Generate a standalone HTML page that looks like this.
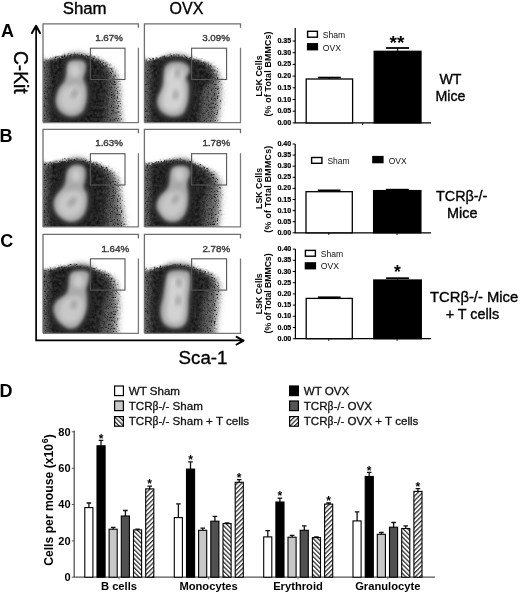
<!DOCTYPE html>
<html><head><meta charset="utf-8"><style>
html,body{margin:0;padding:0;background:#fff;width:520px;height:595px;overflow:hidden}
svg{display:block;will-change:transform}
text{font-family:"Liberation Sans",sans-serif}
.hv{stroke:#000;stroke-width:0.35px}
</style></head><body>
<svg width="520" height="595" viewBox="0 0 520 595" font-family="Liberation Sans, sans-serif"><defs><filter id="b1" x="-20%" y="-20%" width="140%" height="140%"><feGaussianBlur stdDeviation="1"/></filter><filter id="b15" x="-20%" y="-20%" width="140%" height="140%"><feGaussianBlur stdDeviation="1.5"/></filter><filter id="b2" x="-20%" y="-20%" width="140%" height="140%"><feGaussianBlur stdDeviation="2"/></filter><filter id="b3" x="-20%" y="-20%" width="140%" height="140%"><feGaussianBlur stdDeviation="3"/></filter><linearGradient id="lf" x1="0" x2="1" y1="0" y2="0"><stop offset="0" stop-color="#fff" stop-opacity="0.32"/><stop offset="1" stop-color="#fff" stop-opacity="0"/></linearGradient><filter id="bo" x="-20%" y="-20%" width="140%" height="140%"><feGaussianBlur stdDeviation="3.5 1.3"/></filter><filter id="bd" x="-20%" y="-20%" width="140%" height="140%"><feGaussianBlur stdDeviation="3.5 1.0"/></filter><clipPath id="clip00"><rect x="43.0" y="23.8" width="95.4" height="98.8"/></clipPath><filter id="spk00" x="33.0" y="13.8" width="115.4" height="118.8" filterUnits="userSpaceOnUse" color-interpolation-filters="sRGB"><feTurbulence type="fractalNoise" baseFrequency="0.5" numOctaves="2" seed="1" result="t"/><feDisplacementMap in="SourceGraphic" in2="t" scale="4" xChannelSelector="R" yChannelSelector="G" result="d"/><feTurbulence type="fractalNoise" baseFrequency="0.32" numOctaves="2" seed="11" result="t2"/><feColorMatrix in="t2" type="matrix" values="2.2 0 0 0 -0.6000000000000001 2.2 0 0 0 -0.6000000000000001 2.2 0 0 0 -0.6000000000000001 0 0 0 0 1" result="n"/><feComposite in="d" in2="n" operator="arithmetic" k1="-0.14" k2="1.07" k3="0.14" k4="-0.07" result="c"/><feTurbulence type="fractalNoise" baseFrequency="0.7" numOctaves="1" seed="21" result="t3"/><feColorMatrix in="t3" type="matrix" values="0 0 0 0 0.1 0 0 0 0 0.1 0 0 0 0 0.1 8 0 0 0 -4.48" result="dots"/><feColorMatrix in="c" type="matrix" values="0 0 0 0 0 0 0 0 0 0 0 0 0 0 0 0.33 0.33 0.33 0 0" result="lum"/><feComponentTransfer in="lum" result="fm"><feFuncA type="table" tableValues="0 0 0.2 0.5 0.8 0.9 0.9 0.8 0.5 0.15 0 0"/></feComponentTransfer><feComposite in="dots" in2="fm" operator="in" result="dm"/><feComposite in="dm" in2="c" operator="over" result="c2"/><feGaussianBlur in="c2" stdDeviation="0.5"/></filter><clipPath id="clip01"><rect x="144.4" y="23.8" width="96.1" height="98.8"/></clipPath><filter id="spk01" x="134.4" y="13.8" width="116.1" height="118.8" filterUnits="userSpaceOnUse" color-interpolation-filters="sRGB"><feTurbulence type="fractalNoise" baseFrequency="0.5" numOctaves="2" seed="2" result="t"/><feDisplacementMap in="SourceGraphic" in2="t" scale="4" xChannelSelector="R" yChannelSelector="G" result="d"/><feTurbulence type="fractalNoise" baseFrequency="0.32" numOctaves="2" seed="12" result="t2"/><feColorMatrix in="t2" type="matrix" values="2.2 0 0 0 -0.6000000000000001 2.2 0 0 0 -0.6000000000000001 2.2 0 0 0 -0.6000000000000001 0 0 0 0 1" result="n"/><feComposite in="d" in2="n" operator="arithmetic" k1="-0.14" k2="1.07" k3="0.14" k4="-0.07" result="c"/><feTurbulence type="fractalNoise" baseFrequency="0.7" numOctaves="1" seed="22" result="t3"/><feColorMatrix in="t3" type="matrix" values="0 0 0 0 0.1 0 0 0 0 0.1 0 0 0 0 0.1 8 0 0 0 -4.48" result="dots"/><feColorMatrix in="c" type="matrix" values="0 0 0 0 0 0 0 0 0 0 0 0 0 0 0 0.33 0.33 0.33 0 0" result="lum"/><feComponentTransfer in="lum" result="fm"><feFuncA type="table" tableValues="0 0 0.2 0.5 0.8 0.9 0.9 0.8 0.5 0.15 0 0"/></feComponentTransfer><feComposite in="dots" in2="fm" operator="in" result="dm"/><feComposite in="dm" in2="c" operator="over" result="c2"/><feGaussianBlur in="c2" stdDeviation="0.5"/></filter><clipPath id="clip10"><rect x="43.0" y="129.3" width="95.4" height="97.6"/></clipPath><filter id="spk10" x="33.0" y="119.30000000000001" width="115.4" height="117.6" filterUnits="userSpaceOnUse" color-interpolation-filters="sRGB"><feTurbulence type="fractalNoise" baseFrequency="0.5" numOctaves="2" seed="3" result="t"/><feDisplacementMap in="SourceGraphic" in2="t" scale="4" xChannelSelector="R" yChannelSelector="G" result="d"/><feTurbulence type="fractalNoise" baseFrequency="0.32" numOctaves="2" seed="13" result="t2"/><feColorMatrix in="t2" type="matrix" values="2.2 0 0 0 -0.6000000000000001 2.2 0 0 0 -0.6000000000000001 2.2 0 0 0 -0.6000000000000001 0 0 0 0 1" result="n"/><feComposite in="d" in2="n" operator="arithmetic" k1="-0.14" k2="1.07" k3="0.14" k4="-0.07" result="c"/><feTurbulence type="fractalNoise" baseFrequency="0.7" numOctaves="1" seed="23" result="t3"/><feColorMatrix in="t3" type="matrix" values="0 0 0 0 0.1 0 0 0 0 0.1 0 0 0 0 0.1 8 0 0 0 -4.48" result="dots"/><feColorMatrix in="c" type="matrix" values="0 0 0 0 0 0 0 0 0 0 0 0 0 0 0 0.33 0.33 0.33 0 0" result="lum"/><feComponentTransfer in="lum" result="fm"><feFuncA type="table" tableValues="0 0 0.2 0.5 0.8 0.9 0.9 0.8 0.5 0.15 0 0"/></feComponentTransfer><feComposite in="dots" in2="fm" operator="in" result="dm"/><feComposite in="dm" in2="c" operator="over" result="c2"/><feGaussianBlur in="c2" stdDeviation="0.5"/></filter><clipPath id="clip11"><rect x="144.4" y="129.3" width="96.1" height="97.6"/></clipPath><filter id="spk11" x="134.4" y="119.30000000000001" width="116.1" height="117.6" filterUnits="userSpaceOnUse" color-interpolation-filters="sRGB"><feTurbulence type="fractalNoise" baseFrequency="0.5" numOctaves="2" seed="4" result="t"/><feDisplacementMap in="SourceGraphic" in2="t" scale="4" xChannelSelector="R" yChannelSelector="G" result="d"/><feTurbulence type="fractalNoise" baseFrequency="0.32" numOctaves="2" seed="14" result="t2"/><feColorMatrix in="t2" type="matrix" values="2.2 0 0 0 -0.6000000000000001 2.2 0 0 0 -0.6000000000000001 2.2 0 0 0 -0.6000000000000001 0 0 0 0 1" result="n"/><feComposite in="d" in2="n" operator="arithmetic" k1="-0.14" k2="1.07" k3="0.14" k4="-0.07" result="c"/><feTurbulence type="fractalNoise" baseFrequency="0.7" numOctaves="1" seed="24" result="t3"/><feColorMatrix in="t3" type="matrix" values="0 0 0 0 0.1 0 0 0 0 0.1 0 0 0 0 0.1 8 0 0 0 -4.48" result="dots"/><feColorMatrix in="c" type="matrix" values="0 0 0 0 0 0 0 0 0 0 0 0 0 0 0 0.33 0.33 0.33 0 0" result="lum"/><feComponentTransfer in="lum" result="fm"><feFuncA type="table" tableValues="0 0 0.2 0.5 0.8 0.9 0.9 0.8 0.5 0.15 0 0"/></feComponentTransfer><feComposite in="dots" in2="fm" operator="in" result="dm"/><feComposite in="dm" in2="c" operator="over" result="c2"/><feGaussianBlur in="c2" stdDeviation="0.5"/></filter><clipPath id="clip20"><rect x="43.0" y="234.4" width="95.4" height="98.9"/></clipPath><filter id="spk20" x="33.0" y="224.4" width="115.4" height="118.9" filterUnits="userSpaceOnUse" color-interpolation-filters="sRGB"><feTurbulence type="fractalNoise" baseFrequency="0.5" numOctaves="2" seed="5" result="t"/><feDisplacementMap in="SourceGraphic" in2="t" scale="4" xChannelSelector="R" yChannelSelector="G" result="d"/><feTurbulence type="fractalNoise" baseFrequency="0.32" numOctaves="2" seed="15" result="t2"/><feColorMatrix in="t2" type="matrix" values="2.2 0 0 0 -0.6000000000000001 2.2 0 0 0 -0.6000000000000001 2.2 0 0 0 -0.6000000000000001 0 0 0 0 1" result="n"/><feComposite in="d" in2="n" operator="arithmetic" k1="-0.14" k2="1.07" k3="0.14" k4="-0.07" result="c"/><feTurbulence type="fractalNoise" baseFrequency="0.7" numOctaves="1" seed="25" result="t3"/><feColorMatrix in="t3" type="matrix" values="0 0 0 0 0.1 0 0 0 0 0.1 0 0 0 0 0.1 8 0 0 0 -4.48" result="dots"/><feColorMatrix in="c" type="matrix" values="0 0 0 0 0 0 0 0 0 0 0 0 0 0 0 0.33 0.33 0.33 0 0" result="lum"/><feComponentTransfer in="lum" result="fm"><feFuncA type="table" tableValues="0 0 0.2 0.5 0.8 0.9 0.9 0.8 0.5 0.15 0 0"/></feComponentTransfer><feComposite in="dots" in2="fm" operator="in" result="dm"/><feComposite in="dm" in2="c" operator="over" result="c2"/><feGaussianBlur in="c2" stdDeviation="0.5"/></filter><clipPath id="clip21"><rect x="144.4" y="234.4" width="96.1" height="98.9"/></clipPath><filter id="spk21" x="134.4" y="224.4" width="116.1" height="118.9" filterUnits="userSpaceOnUse" color-interpolation-filters="sRGB"><feTurbulence type="fractalNoise" baseFrequency="0.5" numOctaves="2" seed="6" result="t"/><feDisplacementMap in="SourceGraphic" in2="t" scale="4" xChannelSelector="R" yChannelSelector="G" result="d"/><feTurbulence type="fractalNoise" baseFrequency="0.32" numOctaves="2" seed="16" result="t2"/><feColorMatrix in="t2" type="matrix" values="2.2 0 0 0 -0.6000000000000001 2.2 0 0 0 -0.6000000000000001 2.2 0 0 0 -0.6000000000000001 0 0 0 0 1" result="n"/><feComposite in="d" in2="n" operator="arithmetic" k1="-0.14" k2="1.07" k3="0.14" k4="-0.07" result="c"/><feTurbulence type="fractalNoise" baseFrequency="0.7" numOctaves="1" seed="26" result="t3"/><feColorMatrix in="t3" type="matrix" values="0 0 0 0 0.1 0 0 0 0 0.1 0 0 0 0 0.1 8 0 0 0 -4.48" result="dots"/><feColorMatrix in="c" type="matrix" values="0 0 0 0 0 0 0 0 0 0 0 0 0 0 0 0.33 0.33 0.33 0 0" result="lum"/><feComponentTransfer in="lum" result="fm"><feFuncA type="table" tableValues="0 0 0.2 0.5 0.8 0.9 0.9 0.8 0.5 0.15 0 0"/></feComponentTransfer><feComposite in="dots" in2="fm" operator="in" result="dm"/><feComposite in="dm" in2="c" operator="over" result="c2"/><feGaussianBlur in="c2" stdDeviation="0.5"/></filter><pattern id="hb" patternUnits="userSpaceOnUse" width="3.2" height="3.2" patternTransform="rotate(-45)"><rect width="3.2" height="3.2" fill="#fff"/><rect width="1.3" height="3.2" fill="#333"/></pattern><pattern id="hf" patternUnits="userSpaceOnUse" width="3.2" height="3.2" patternTransform="rotate(45)"><rect width="3.2" height="3.2" fill="#fff"/><rect width="1.3" height="3.2" fill="#333"/></pattern></defs><rect width="520" height="595" fill="#fff"/><text x="0.9" y="36.9" font-size="18" font-weight="bold" text-anchor="start" fill="#000" >A</text>
<text x="-0.4" y="141.9" font-size="18" font-weight="bold" text-anchor="start" fill="#000" >B</text>
<text x="0.2" y="247.0" font-size="18" font-weight="bold" text-anchor="start" fill="#000" >C</text>
<text x="-0.4" y="396.9" font-size="18" font-weight="bold" text-anchor="start" fill="#000" >D</text>
<text x="84.7" y="13.7" font-size="16.8" font-weight="normal" text-anchor="middle" fill="#000" class="hv">Sham</text>
<text x="186.5" y="13.9" font-size="16" font-weight="normal" text-anchor="middle" fill="#000" class="hv">OVX</text>
<text class="hv" transform="translate(14.4,72.3) rotate(90)" font-size="19.3" text-anchor="middle" fill="#000">C-Kit</text>
<text x="203.0" y="363.8" font-size="18.7" font-weight="normal" text-anchor="middle" fill="#000" class="hv">Sca-1</text>
<path d="M36.1,27 V340.3 H243" stroke="#000" stroke-width="1.7" fill="none"/>
<path d="M31.9,33.0 L36.1,25.8 L40.0,33.0" stroke="#000" stroke-width="2.0" fill="none" stroke-linejoin="round" stroke-linecap="round"/>
<path d="M34.4,29.5 L36.1,26.5 L37.8,29.5 Z" fill="#000"/>
<path d="M236.6,336.9 L243.6,340.6 L236.6,344.5" stroke="#000" stroke-width="2.0" fill="none" stroke-linejoin="round" stroke-linecap="round"/>
<path d="M239.8,339.0 L243.0,340.6 L239.8,342.2 Z" fill="#000"/>
<g clip-path="url(#clip00)">
<g filter="url(#spk00)"><rect x="33.0" y="13.8" width="115.4" height="118.8" fill="#fff"/>
<path d="M35.0,60.2 C36.4,48.6 40.7,60.5 43.5,60.2 C46.3,59.9 49.1,58.9 51.8,58.3 C54.5,57.6 56.7,56.9 59.6,56.3 C62.5,55.7 66.1,54.9 69.4,54.6 C72.7,54.3 76.2,54.2 79.2,54.3 C82.2,54.4 84.3,54.8 87.1,55.3 C89.9,55.8 93.5,56.3 96.0,57.3 C98.5,58.3 100.3,59.9 102.4,61.2 C104.5,62.5 106.6,63.5 108.5,65.3 C110.4,67.1 112.6,69.4 114.0,71.8 C115.4,74.2 116.2,76.8 117.0,79.8 C117.8,82.8 118.2,86.1 118.5,89.8 C118.8,93.5 118.8,97.8 119.0,101.8 C119.2,105.8 119.7,110.1 120.0,113.8 C120.3,117.5 120.5,121.1 121.0,123.8 C121.5,126.5 137.3,128.8 123.0,129.8 C108.7,130.8 49.7,141.4 35.0,129.8 C20.3,118.2 33.6,71.8 35.0,60.2 Z" fill="#5e5e5e" filter="url(#bo)"/>
<path d="M35.0,62.3 C36.4,51.0 40.7,62.6 43.5,62.3 C46.3,62.0 49.1,61.0 51.8,60.3 C54.5,59.6 56.7,58.9 59.6,58.3 C62.5,57.7 66.1,57.1 69.4,56.8 C72.7,56.5 76.2,56.5 79.2,56.6 C82.2,56.7 84.5,57.1 87.1,57.6 C89.7,58.1 92.7,58.8 95.0,59.8 C97.3,60.8 99.2,61.8 101.0,63.3 C102.8,64.8 104.4,66.5 105.5,68.8 C106.6,71.0 107.1,74.0 107.5,76.8 C107.9,79.6 108.1,82.1 108.0,85.8 C107.9,89.5 107.3,94.5 107.0,98.8 C106.7,103.1 106.3,107.6 106.0,111.8 C105.7,116.0 105.0,120.8 105.0,123.8 C105.0,126.8 117.7,128.8 106.0,129.8 C94.3,130.8 46.8,141.1 35.0,129.8 C23.2,118.6 33.6,73.5 35.0,62.3 Z" fill="#242424" filter="url(#bd)"/>
<rect x="43.0" y="23.8" width="10" height="100" fill="url(#lf)"/>
</g>
<path d="M69.0,55.4 C70.7,54.9 74.2,54.5 76.7,54.4 C79.1,54.4 81.8,54.6 83.7,55.1 C85.5,55.7 86.9,56.5 87.7,57.8 C88.6,59.1 88.7,61.2 88.8,62.9 C89.0,64.7 88.7,66.8 88.5,68.4 C88.2,70.1 87.3,71.2 87.4,72.9 C87.6,74.7 88.6,76.7 89.3,78.8 C90.0,80.9 91.3,83.1 91.8,85.5 C92.3,87.9 92.4,90.4 92.3,93.2 C92.1,96.1 91.5,99.7 90.8,102.6 C90.1,105.5 89.2,108.3 88.1,110.8 C86.9,113.3 85.9,115.6 84.0,117.4 C82.1,119.2 79.3,120.8 76.6,121.6 C73.9,122.3 70.6,122.4 67.9,121.9 C65.2,121.4 62.5,120.1 60.4,118.8 C58.2,117.5 56.6,116.1 55.1,114.1 C53.7,112.2 52.4,109.4 51.7,107.1 C51.1,104.9 51.2,102.9 51.3,100.6 C51.4,98.2 51.7,95.3 52.3,92.8 C52.9,90.4 53.8,88.4 55.0,85.9 C56.2,83.5 58.0,81.0 59.4,78.4 C60.8,75.7 62.3,72.6 63.2,69.9 C64.1,67.2 64.3,64.3 64.8,62.2 C65.4,60.2 65.9,58.6 66.5,57.5 C67.2,56.4 67.3,55.9 69.0,55.4 Z" fill="#262626" filter="url(#b3)"/>
<path d="M69.8,60.7 C71.2,60.2 74.1,59.9 76.2,59.8 C78.2,59.7 80.5,59.8 82.0,60.3 C83.5,60.8 84.7,61.5 85.3,62.7 C86.0,63.9 85.9,65.8 85.9,67.5 C85.8,69.1 85.4,71.0 85.0,72.6 C84.6,74.1 83.6,75.3 83.6,76.7 C83.5,78.1 84.0,79.6 84.4,81.1 C84.9,82.6 85.9,84.0 86.4,85.7 C86.9,87.4 87.1,89.2 87.2,91.4 C87.3,93.5 87.2,96.4 86.9,98.9 C86.5,101.4 86.1,103.9 85.3,106.2 C84.6,108.4 83.8,110.6 82.3,112.3 C80.8,114.0 78.4,115.5 76.1,116.2 C73.9,116.9 71.0,117.0 68.7,116.6 C66.5,116.2 64.2,114.9 62.4,113.8 C60.6,112.6 59.2,111.4 58.1,109.6 C57.0,107.9 56.0,105.4 55.6,103.4 C55.3,101.4 55.5,99.7 55.9,97.7 C56.2,95.6 56.7,93.2 57.5,91.3 C58.2,89.3 59.3,87.8 60.4,86.1 C61.5,84.4 63.2,82.9 64.1,81.0 C65.0,79.1 65.6,76.7 66.0,74.4 C66.5,72.2 66.4,69.2 66.7,67.3 C67.0,65.3 67.3,63.8 67.8,62.7 C68.3,61.6 68.4,61.2 69.8,60.7 Z" fill="#868686" filter="url(#b2)"/>
<path d="M70.0,62.3 C71.3,61.8 74.1,61.5 76.0,61.4 C77.9,61.3 80.1,61.4 81.5,61.8 C82.9,62.2 84.0,62.9 84.6,64.1 C85.2,65.3 85.1,67.2 85.0,68.8 C84.9,70.4 84.4,72.3 84.0,73.8 C83.6,75.3 82.6,76.5 82.4,77.8 C82.2,79.1 82.6,80.5 83.0,81.8 C83.4,83.1 84.3,84.3 84.8,85.8 C85.2,87.3 85.5,88.8 85.7,90.8 C85.9,92.8 85.9,95.5 85.7,97.8 C85.5,100.1 85.2,102.6 84.5,104.8 C83.8,107.0 83.2,109.2 81.8,110.8 C80.4,112.4 78.1,113.9 76.0,114.6 C73.9,115.3 71.2,115.4 69.0,115.0 C66.8,114.6 64.7,113.4 63.0,112.3 C61.3,111.2 60.0,110.0 59.0,108.3 C58.0,106.6 57.1,104.2 56.8,102.3 C56.5,100.4 56.8,98.7 57.2,96.8 C57.6,94.9 58.2,92.6 59.0,90.8 C59.8,89.0 60.9,87.6 62.0,86.1 C63.1,84.6 64.7,83.5 65.5,81.8 C66.3,80.1 66.6,78.0 66.9,75.8 C67.2,73.6 67.0,70.7 67.2,68.8 C67.4,66.9 67.7,65.4 68.2,64.3 C68.7,63.2 68.7,62.8 70.0,62.3 Z" fill="#aaaaaa" filter="url(#b15)"/>
<path d="M63.5,88.8 C65.0,87.0 66.9,86.4 69.0,85.8 C71.1,85.2 73.9,85.0 76.0,85.3 C78.1,85.6 80.3,86.2 81.5,87.8 C82.7,89.4 82.9,92.3 83.0,94.8 C83.1,97.3 82.8,100.5 82.0,102.8 C81.2,105.1 80.2,107.4 78.5,108.8 C76.8,110.2 73.8,111.2 71.5,111.3 C69.2,111.4 66.3,110.5 64.5,109.3 C62.7,108.0 61.2,105.9 60.5,103.8 C59.8,101.7 59.5,99.3 60.0,96.8 C60.5,94.3 62.0,90.6 63.5,88.8 Z" fill="#c8c8c8" filter="url(#b2)"/>
<ellipse cx="0" cy="0" rx="5.5" ry="7" fill="#cccccc" transform="translate(75.0,70.8) rotate(0)" filter="url(#b2)"/>
<ellipse cx="0" cy="0" rx="2.76" ry="5.289999999999999" fill="#a2a2a2" transform="translate(74.7,93.5) rotate(30)" filter="url(#b2)"/>
</g>
<path d="M43.0,122.6 V23.8 H138.4 V27.8" stroke="#6e6e6e" stroke-width="1.3" fill="none"/>
<path d="M138.4,47.8 V122.6 H43.0" stroke="#7a7a7a" stroke-width="1.3" fill="none"/>
<rect x="90.4" y="48.2" width="34.599999999999994" height="31.3" stroke="#555" stroke-width="1.1" fill="none"/>
<text x="95.2" y="41.199999999999996" font-size="9.8" font-weight="normal" text-anchor="start" fill="#3c3c3c" stroke="#3c3c3c" stroke-width="0.4">1.67%</text>
<g clip-path="url(#clip01)">
<g filter="url(#spk01)"><rect x="134.4" y="13.8" width="116.1" height="118.8" fill="#fff"/>
<path d="M136.4,60.2 C137.8,48.6 142.2,60.4 144.9,60.2 C147.6,60.0 149.8,59.3 152.4,58.8 C155.0,58.3 157.6,57.7 160.6,57.1 C163.6,56.5 167.1,55.5 170.4,55.3 C173.7,55.1 176.6,55.4 180.2,55.9 C183.8,56.4 188.1,57.4 192.0,58.3 C195.9,59.2 200.6,60.0 203.8,61.2 C207.0,62.5 209.3,63.9 211.4,65.8 C213.5,67.6 215.2,70.0 216.4,72.3 C217.7,74.6 218.4,77.5 218.9,79.8 C219.4,82.0 219.4,82.7 219.5,85.8 C219.6,88.9 219.8,94.1 219.5,98.5 C219.2,102.9 218.6,108.0 218.0,112.2 C217.4,116.4 215.9,120.9 215.9,123.8 C215.9,126.7 231.2,128.8 217.9,129.8 C204.7,130.8 150.0,141.4 136.4,129.8 C122.8,118.2 135.0,71.8 136.4,60.2 Z" fill="#5e5e5e" filter="url(#bo)"/>
<path d="M136.4,62.2 C137.8,50.9 142.2,62.4 144.9,62.2 C147.6,62.0 149.8,61.3 152.4,60.8 C155.0,60.3 157.6,59.6 160.6,59.1 C163.6,58.6 167.1,57.8 170.4,57.6 C173.7,57.4 176.6,57.6 180.2,58.1 C183.8,58.5 188.1,59.4 192.0,60.3 C195.9,61.2 200.9,62.2 203.8,63.4 C206.7,64.6 208.0,65.7 209.4,67.3 C210.8,68.9 211.8,70.9 212.4,72.8 C213.0,74.7 213.6,77.0 212.9,78.8 C212.2,80.6 210.0,81.6 208.4,83.8 C206.8,86.0 204.6,88.1 203.4,91.8 C202.2,95.5 201.9,100.5 201.4,105.8 C200.9,111.1 200.4,119.8 200.4,123.8 C200.4,127.8 212.1,128.8 201.4,129.8 C190.7,130.8 147.2,141.1 136.4,129.8 C125.6,118.5 135.0,73.5 136.4,62.2 Z" fill="#242424" filter="url(#bd)"/>
<rect x="144.4" y="23.8" width="10" height="100" fill="url(#lf)"/>
</g>
<path d="M168.3,57.2 C170.3,56.5 173.0,56.2 175.5,56.1 C177.9,56.0 180.7,55.9 183.2,56.5 C185.6,57.2 188.5,58.8 190.1,60.0 C191.7,61.2 192.3,62.3 192.8,63.7 C193.3,65.1 193.4,66.9 193.0,68.2 C192.6,69.6 190.6,70.4 190.3,71.9 C190.1,73.3 191.0,75.3 191.6,77.2 C192.3,79.2 193.7,80.9 194.2,83.6 C194.6,86.2 194.6,89.7 194.3,92.9 C194.0,96.0 193.3,99.5 192.5,102.5 C191.7,105.5 190.8,108.1 189.5,110.8 C188.2,113.5 186.8,116.8 184.8,118.7 C182.9,120.6 180.5,121.4 177.9,122.0 C175.3,122.5 171.8,122.4 169.2,122.0 C166.6,121.6 164.3,120.4 162.3,119.3 C160.3,118.2 158.5,117.1 157.0,115.2 C155.5,113.3 153.9,110.5 153.2,108.0 C152.6,105.6 152.6,103.1 152.9,100.4 C153.2,97.7 154.6,95.1 155.3,92.0 C156.1,88.9 156.7,85.2 157.5,81.9 C158.2,78.5 159.0,74.8 159.7,71.9 C160.3,69.1 160.6,66.8 161.3,64.9 C161.9,63.0 162.4,61.7 163.6,60.4 C164.8,59.1 166.3,57.9 168.3,57.2 Z" fill="#262626" filter="url(#b3)"/>
<path d="M169.5,62.4 C171.1,61.8 173.4,61.6 175.4,61.5 C177.5,61.4 179.8,61.2 181.8,61.8 C183.8,62.3 186.2,63.7 187.5,64.7 C188.8,65.7 189.3,66.8 189.6,68.0 C189.9,69.3 189.8,70.9 189.3,72.1 C188.8,73.4 186.9,74.4 186.5,75.7 C186.1,77.0 186.6,78.5 187.0,80.0 C187.4,81.5 188.5,82.6 188.9,84.5 C189.2,86.4 189.2,88.9 189.1,91.3 C189.1,93.7 188.9,96.4 188.5,98.9 C188.1,101.4 187.6,103.7 186.7,106.2 C185.9,108.6 184.8,111.8 183.3,113.5 C181.7,115.3 179.7,116.1 177.5,116.6 C175.3,117.1 172.3,117.1 170.1,116.7 C167.9,116.3 166.0,115.3 164.3,114.3 C162.6,113.3 161.1,112.3 159.9,110.6 C158.7,109.0 157.5,106.5 157.1,104.3 C156.7,102.1 157.0,99.9 157.5,97.6 C158.1,95.4 159.7,93.1 160.5,90.7 C161.4,88.3 162.2,85.9 162.7,83.4 C163.2,80.9 163.3,78.0 163.6,75.7 C163.8,73.4 163.8,71.2 164.1,69.4 C164.5,67.7 164.9,66.5 165.8,65.3 C166.7,64.2 167.9,63.1 169.5,62.4 Z" fill="#868686" filter="url(#b2)"/>
<path d="M169.9,64.0 C171.4,63.4 173.5,63.2 175.4,63.1 C177.3,63.0 179.5,62.8 181.4,63.3 C183.3,63.8 185.5,65.1 186.7,66.1 C187.9,67.1 188.4,68.1 188.6,69.3 C188.9,70.5 188.7,72.0 188.2,73.3 C187.7,74.5 185.8,75.5 185.4,76.8 C185.0,78.0 185.3,79.5 185.6,80.8 C185.9,82.1 187.0,83.1 187.3,84.8 C187.6,86.5 187.6,88.6 187.6,90.8 C187.6,93.0 187.6,95.5 187.3,97.8 C187.0,100.1 186.7,102.4 185.9,104.8 C185.2,107.2 184.2,110.3 182.8,112.0 C181.4,113.7 179.5,114.5 177.4,115.0 C175.3,115.5 172.5,115.5 170.4,115.1 C168.3,114.7 166.5,113.8 164.9,112.8 C163.3,111.8 161.9,110.9 160.8,109.3 C159.7,107.7 158.6,105.3 158.3,103.2 C158.0,101.1 158.3,99.0 158.9,96.8 C159.5,94.6 161.2,92.5 162.1,90.3 C163.0,88.1 163.8,86.0 164.2,83.8 C164.6,81.5 164.6,79.0 164.7,76.8 C164.8,74.6 164.7,72.5 165.0,70.8 C165.3,69.1 165.6,67.9 166.4,66.8 C167.2,65.7 168.4,64.6 169.9,64.0 Z" fill="#aaaaaa" filter="url(#b15)"/>
<path d="M166.4,75.8 C167.3,72.8 169.2,69.2 171.4,67.8 C173.6,66.4 177.3,66.5 179.4,67.3 C181.5,68.1 183.3,70.5 183.9,72.8 C184.5,75.0 182.8,78.0 182.9,80.8 C183.0,83.6 184.2,86.6 184.4,89.8 C184.6,93.0 184.6,96.6 183.9,99.8 C183.2,103.0 182.2,106.8 180.4,108.8 C178.6,110.8 175.4,111.7 172.9,111.8 C170.4,111.9 167.2,110.8 165.4,109.3 C163.6,107.8 162.2,105.4 161.9,102.8 C161.6,100.2 162.7,96.6 163.4,93.8 C164.1,91.0 165.4,88.8 165.9,85.8 C166.4,82.8 165.5,78.8 166.4,75.8 Z" fill="#d2d2d2" filter="url(#b2)"/>
<ellipse cx="0" cy="0" rx="2.76" ry="5.52" fill="#a2a2a2" transform="translate(177.6,72.8) rotate(5)" filter="url(#b2)"/>
<ellipse cx="0" cy="0" rx="2.76" ry="4.6" fill="#a2a2a2" transform="translate(175.7,94.8) rotate(10)" filter="url(#b2)"/>
</g>
<path d="M144.4,122.6 V23.8 H240.5 V27.8" stroke="#6e6e6e" stroke-width="1.3" fill="none"/>
<path d="M240.5,47.8 V122.6 H144.4" stroke="#7a7a7a" stroke-width="1.3" fill="none"/>
<rect x="191.6" y="48.2" width="35.0" height="31.3" stroke="#555" stroke-width="1.1" fill="none"/>
<text x="202.2" y="41.0" font-size="9.8" font-weight="normal" text-anchor="start" fill="#3c3c3c" stroke="#3c3c3c" stroke-width="0.4">3.09%</text>
<g clip-path="url(#clip10)">
<g filter="url(#spk10)"><rect x="33.0" y="119.30000000000001" width="115.4" height="117.6" fill="#fff"/>
<path d="M35.0,163.3 C36.5,151.3 40.4,163.6 43.9,163.3 C47.4,163.0 51.5,162.0 55.7,161.3 C60.0,160.6 64.8,159.5 69.4,159.3 C74.0,159.1 78.6,159.6 83.2,160.3 C87.8,161.0 93.0,162.0 96.9,163.3 C100.8,164.6 103.8,166.3 106.7,168.2 C109.6,170.2 112.5,172.2 114.5,175.0 C116.5,177.8 117.5,180.6 118.5,184.8 C119.5,189.1 119.8,195.6 120.4,200.5 C121.1,205.4 121.8,209.8 122.4,214.3 C123.1,218.8 123.7,223.8 124.3,227.3 C124.9,230.8 141.2,234.0 126.3,235.3 C111.4,236.6 50.2,247.3 35.0,235.3 C19.8,223.3 33.5,175.3 35.0,163.3 Z" fill="#5e5e5e" filter="url(#bo)"/>
<path d="M35.0,165.3 C36.5,153.6 40.4,165.6 43.9,165.3 C47.4,165.0 51.5,163.9 55.7,163.3 C60.0,162.7 64.8,161.6 69.4,161.5 C74.0,161.4 78.9,161.9 83.2,162.5 C87.5,163.1 91.7,164.1 95.0,165.3 C98.3,166.5 101.0,168.1 103.0,169.8 C105.0,171.6 106.1,173.4 107.0,175.8 C107.9,178.2 108.3,180.7 108.5,184.3 C108.7,187.9 108.2,192.8 108.0,197.3 C107.8,201.8 107.3,206.0 107.0,211.3 C106.7,216.6 106.0,225.3 106.0,229.3 C106.0,233.3 118.8,234.3 107.0,235.3 C95.2,236.3 47.0,247.0 35.0,235.3 C23.0,223.6 33.5,177.0 35.0,165.3 Z" fill="#242424" filter="url(#bd)"/>
<rect x="43.0" y="129.3" width="10" height="100" fill="url(#lf)"/>
</g>
<path d="M69.7,161.3 C70.8,160.5 71.6,160.0 73.0,159.6 C74.3,159.2 76.2,158.9 78.0,159.0 C79.8,159.1 82.2,159.4 83.7,160.1 C85.2,160.7 86.3,161.6 87.1,163.0 C87.9,164.4 88.4,166.5 88.7,168.5 C89.1,170.6 89.2,173.2 89.1,175.3 C89.1,177.5 88.4,179.6 88.5,181.5 C88.6,183.4 89.0,185.1 89.6,187.0 C90.1,188.9 91.5,190.5 92.0,192.8 C92.5,195.2 92.8,198.1 92.6,200.9 C92.4,203.6 91.7,206.6 90.9,209.3 C90.2,211.9 89.2,214.7 88.0,216.8 C86.8,219.0 85.5,220.8 83.8,222.4 C82.0,224.0 79.8,225.7 77.3,226.6 C74.8,227.4 71.4,227.9 68.6,227.5 C65.8,227.2 62.9,225.7 60.5,224.3 C58.1,222.9 55.7,221.0 54.0,219.1 C52.3,217.1 51.0,214.8 50.1,212.5 C49.3,210.2 48.8,207.5 48.7,205.3 C48.7,203.0 49.1,201.0 49.8,199.0 C50.6,196.9 51.8,195.0 53.0,192.8 C54.3,190.6 56.0,188.0 57.4,185.6 C58.9,183.1 60.5,180.5 61.6,178.0 C62.7,175.5 63.2,172.6 64.0,170.4 C64.8,168.1 65.3,166.0 66.3,164.5 C67.2,163.0 68.6,162.2 69.7,161.3 Z" fill="#262626" filter="url(#b3)"/>
<path d="M70.3,166.7 C71.2,165.9 71.8,165.4 73.0,165.0 C74.1,164.6 75.7,164.3 77.2,164.3 C78.7,164.3 80.8,164.6 82.0,165.2 C83.3,165.8 84.1,166.6 84.7,167.9 C85.3,169.2 85.6,171.1 85.7,173.0 C85.8,174.9 85.6,177.3 85.3,179.2 C85.0,181.1 84.1,182.9 83.9,184.4 C83.8,186.0 83.9,187.1 84.3,188.4 C84.8,189.7 86.0,190.7 86.6,192.4 C87.2,194.1 87.6,196.3 87.7,198.5 C87.8,200.7 87.5,203.2 87.1,205.4 C86.7,207.7 86.2,210.2 85.3,212.2 C84.5,214.2 83.5,215.8 82.0,217.3 C80.6,218.8 78.8,220.4 76.7,221.2 C74.6,222.0 71.7,222.5 69.3,222.2 C66.9,221.9 64.5,220.6 62.4,219.3 C60.4,218.0 58.5,216.4 57.1,214.6 C55.7,212.9 54.7,210.9 54.1,208.9 C53.5,206.9 53.3,204.5 53.4,202.6 C53.6,200.7 54.1,199.0 55.0,197.3 C55.8,195.6 57.2,194.1 58.4,192.4 C59.7,190.8 61.4,189.2 62.5,187.4 C63.6,185.7 64.5,184.1 65.2,182.1 C65.8,180.1 65.8,177.4 66.2,175.3 C66.6,173.3 66.9,171.2 67.6,169.8 C68.3,168.3 69.4,167.5 70.3,166.7 Z" fill="#868686" filter="url(#b2)"/>
<path d="M70.5,168.3 C71.3,167.5 71.9,167.0 73.0,166.6 C74.1,166.2 75.6,165.9 77.0,165.9 C78.4,165.9 80.3,166.1 81.5,166.7 C82.7,167.3 83.5,168.0 84.0,169.3 C84.5,170.6 84.8,172.5 84.8,174.3 C84.8,176.1 84.6,178.5 84.2,180.3 C83.8,182.1 82.8,183.9 82.6,185.3 C82.4,186.7 82.4,187.6 82.8,188.8 C83.2,190.0 84.4,190.8 85.0,192.3 C85.6,193.8 86.1,195.8 86.3,197.8 C86.5,199.8 86.3,202.1 86.0,204.3 C85.7,206.5 85.2,208.9 84.5,210.8 C83.8,212.7 82.8,214.3 81.5,215.8 C80.2,217.3 78.5,218.8 76.5,219.6 C74.5,220.4 71.8,220.9 69.5,220.6 C67.2,220.3 64.9,219.0 63.0,217.8 C61.1,216.6 59.3,215.0 58.0,213.3 C56.7,211.6 55.8,209.7 55.3,207.8 C54.8,205.9 54.6,203.6 54.8,201.8 C55.0,200.0 55.6,198.4 56.5,196.8 C57.4,195.2 58.8,193.8 60.0,192.3 C61.2,190.8 63.0,189.5 64.0,188.0 C65.0,186.5 65.7,185.2 66.2,183.3 C66.7,181.4 66.5,178.8 66.8,176.8 C67.1,174.8 67.4,172.7 68.0,171.3 C68.6,169.9 69.7,169.1 70.5,168.3 Z" fill="#aaaaaa" filter="url(#b15)"/>
<path d="M59.5,198.3 C60.5,196.4 61.9,194.1 64.0,192.8 C66.1,191.6 69.4,191.0 72.0,190.8 C74.6,190.6 77.7,190.7 79.5,191.8 C81.3,192.9 82.5,194.9 83.0,197.3 C83.5,199.7 83.2,203.6 82.5,206.3 C81.8,209.0 80.8,211.5 79.0,213.3 C77.2,215.1 74.5,216.9 72.0,217.3 C69.5,217.7 66.2,216.9 64.0,215.8 C61.8,214.7 60.0,212.7 59.0,210.8 C58.0,208.9 57.9,206.4 58.0,204.3 C58.1,202.2 58.5,200.2 59.5,198.3 Z" fill="#c8c8c8" filter="url(#b2)"/>
<ellipse cx="0" cy="0" rx="4.8" ry="6.5" fill="#cccccc" transform="translate(76.0,175.3) rotate(0)" filter="url(#b2)"/>
<ellipse cx="0" cy="0" rx="3.12" ry="5.9799999999999995" fill="#a2a2a2" transform="translate(72.1,201.9) rotate(40)" filter="url(#b2)"/>
</g>
<path d="M43.0,226.9 V129.3 H138.4 V133.3" stroke="#6e6e6e" stroke-width="1.3" fill="none"/>
<path d="M138.4,153.3 V226.9 H43.0" stroke="#7a7a7a" stroke-width="1.3" fill="none"/>
<rect x="90.4" y="153.70000000000002" width="34.599999999999994" height="31.3" stroke="#555" stroke-width="1.1" fill="none"/>
<text x="95.2" y="145.9" font-size="9.8" font-weight="normal" text-anchor="start" fill="#3c3c3c" stroke="#3c3c3c" stroke-width="0.4">1.63%</text>
<g clip-path="url(#clip11)">
<g filter="url(#spk11)"><rect x="134.4" y="119.30000000000001" width="116.1" height="117.6" fill="#fff"/>
<path d="M136.4,164.3 C137.8,152.5 140.9,164.8 144.9,164.3 C148.9,163.8 155.7,162.1 160.6,161.3 C165.5,160.5 169.8,159.3 174.4,159.3 C179.0,159.3 183.9,160.3 188.1,161.3 C192.3,162.3 196.2,163.8 199.8,165.3 C203.4,166.8 206.9,168.2 209.7,170.1 C212.5,172.1 214.9,174.6 216.5,177.0 C218.1,179.4 219.0,180.9 219.5,184.8 C220.0,188.7 219.7,195.2 219.5,200.5 C219.3,205.8 218.8,211.8 218.5,216.3 C218.2,220.8 217.3,224.1 217.5,227.3 C217.7,230.5 233.0,234.0 219.5,235.3 C206.0,236.6 150.2,247.1 136.4,235.3 C122.6,223.5 135.0,176.1 136.4,164.3 Z" fill="#5e5e5e" filter="url(#bo)"/>
<path d="M136.4,166.3 C137.8,154.8 140.9,166.8 144.9,166.3 C148.9,165.8 155.7,164.1 160.6,163.3 C165.5,162.5 169.8,161.5 174.4,161.5 C179.0,161.5 184.1,162.3 188.1,163.3 C192.1,164.3 195.5,165.9 198.4,167.3 C201.3,168.7 203.6,170.1 205.4,171.8 C207.2,173.6 208.7,175.6 209.4,177.8 C210.1,180.1 209.9,182.4 209.4,185.3 C208.9,188.2 207.2,191.3 206.4,195.3 C205.6,199.3 204.9,203.6 204.4,209.3 C203.9,215.0 203.4,225.0 203.4,229.3 C203.4,233.6 215.6,234.3 204.4,235.3 C193.2,236.3 147.7,246.8 136.4,235.3 C125.1,223.8 135.0,177.8 136.4,166.3 Z" fill="#242424" filter="url(#bd)"/>
<rect x="144.4" y="129.3" width="10" height="100" fill="url(#lf)"/>
</g>
<path d="M171.4,162.5 C172.4,161.7 173.7,161.0 175.4,160.6 C177.1,160.2 179.7,160.1 181.8,160.1 C183.9,160.2 186.4,160.4 188.1,161.1 C189.9,161.9 191.5,163.2 192.4,164.8 C193.2,166.4 193.5,168.8 193.4,170.6 C193.3,172.4 192.2,173.7 191.9,175.5 C191.7,177.2 191.8,179.2 192.0,181.1 C192.1,183.1 192.7,185.0 193.0,187.2 C193.3,189.4 193.9,191.6 193.8,194.5 C193.7,197.4 193.1,201.3 192.4,204.6 C191.7,207.9 190.8,211.4 189.6,214.3 C188.3,217.2 186.8,219.9 184.9,222.0 C183.0,224.1 180.7,225.9 178.1,226.8 C175.5,227.7 172.0,227.9 169.2,227.5 C166.5,227.1 163.8,225.7 161.7,224.3 C159.7,222.9 158.5,221.2 156.9,219.1 C155.4,217.1 153.3,214.3 152.5,212.0 C151.7,209.7 152.0,207.3 152.2,205.3 C152.4,203.3 153.2,201.5 153.9,199.9 C154.6,198.3 155.4,197.4 156.6,195.5 C157.8,193.6 159.5,191.2 161.0,188.4 C162.6,185.6 164.8,181.8 166.0,178.7 C167.2,175.6 167.7,171.9 168.3,169.6 C168.9,167.4 169.2,166.2 169.7,165.0 C170.2,163.8 170.5,163.2 171.4,162.5 Z" fill="#262626" filter="url(#b3)"/>
<path d="M172.2,167.8 C172.9,167.1 174.0,166.4 175.4,166.0 C176.8,165.6 179.0,165.4 180.7,165.4 C182.5,165.5 184.6,165.5 186.0,166.1 C187.5,166.8 188.8,167.9 189.5,169.4 C190.1,170.8 190.1,173.1 189.8,174.7 C189.6,176.3 188.5,177.6 188.1,179.2 C187.6,180.7 187.4,182.4 187.4,184.0 C187.3,185.5 187.6,186.8 187.8,188.4 C187.9,190.0 188.4,191.4 188.5,193.6 C188.5,195.7 188.5,198.6 188.2,201.3 C187.9,204.0 187.6,207.1 186.7,209.7 C185.9,212.3 184.8,214.9 183.3,216.8 C181.8,218.8 179.9,220.5 177.7,221.4 C175.5,222.3 172.5,222.5 170.1,222.2 C167.8,221.8 165.5,220.5 163.8,219.3 C162.1,218.0 161.1,216.4 159.9,214.6 C158.7,212.8 157.0,210.4 156.5,208.4 C156.0,206.4 156.4,204.3 156.8,202.5 C157.2,200.8 158.1,199.3 158.9,197.9 C159.7,196.5 160.6,195.7 161.8,194.3 C163.1,192.9 165.1,191.4 166.3,189.5 C167.6,187.6 168.6,185.5 169.2,183.0 C169.9,180.6 169.7,176.9 170.0,174.8 C170.3,172.6 170.5,171.4 170.9,170.2 C171.2,169.1 171.4,168.5 172.2,167.8 Z" fill="#868686" filter="url(#b2)"/>
<path d="M172.4,169.4 C173.1,168.7 174.1,168.0 175.4,167.6 C176.7,167.2 178.7,167.0 180.4,167.0 C182.1,167.0 184.0,167.0 185.4,167.6 C186.8,168.2 188.0,169.3 188.6,170.7 C189.2,172.1 189.1,174.3 188.8,175.9 C188.5,177.5 187.4,178.8 186.9,180.3 C186.4,181.8 186.1,183.4 186.0,184.8 C185.9,186.2 186.0,187.4 186.2,188.8 C186.3,190.2 186.8,191.4 186.9,193.3 C187.0,195.2 187.1,197.8 186.9,200.3 C186.7,202.8 186.6,205.8 185.9,208.3 C185.2,210.8 184.2,213.4 182.8,215.3 C181.4,217.2 179.7,218.9 177.6,219.8 C175.5,220.7 172.6,220.9 170.4,220.6 C168.2,220.3 166.0,219.0 164.4,217.8 C162.8,216.6 161.9,215.1 160.8,213.3 C159.7,211.6 158.1,209.2 157.7,207.3 C157.3,205.4 157.8,203.4 158.2,201.7 C158.7,200.0 159.5,198.6 160.4,197.3 C161.3,196.0 162.2,195.2 163.4,194.0 C164.7,192.8 166.8,191.4 167.9,189.8 C169.0,188.2 169.8,186.6 170.2,184.3 C170.6,182.1 170.3,178.4 170.5,176.3 C170.7,174.2 170.9,173.0 171.2,171.8 C171.5,170.7 171.7,170.1 172.4,169.4 Z" fill="#aaaaaa" filter="url(#b15)"/>
<path d="M162.4,200.3 C163.3,198.7 164.6,196.3 166.4,194.8 C168.2,193.3 171.1,191.8 173.4,191.3 C175.7,190.8 178.7,190.8 180.4,191.8 C182.2,192.8 183.4,194.9 183.9,197.3 C184.4,199.7 184.1,203.6 183.4,206.3 C182.7,209.0 181.7,211.5 179.9,213.3 C178.2,215.1 175.3,217.0 172.9,217.3 C170.5,217.6 167.3,216.6 165.4,215.3 C163.5,214.1 162.2,211.6 161.4,209.8 C160.7,208.0 160.7,205.9 160.9,204.3 C161.1,202.7 161.5,201.9 162.4,200.3 Z" fill="#c8c8c8" filter="url(#b2)"/>
<ellipse cx="0" cy="0" rx="5" ry="6.5" fill="#cccccc" transform="translate(179.4,174.8) rotate(0)" filter="url(#b2)"/>
<ellipse cx="0" cy="0" rx="2.88" ry="5.75" fill="#a2a2a2" transform="translate(175.7,199.1) rotate(30)" filter="url(#b2)"/>
</g>
<path d="M144.4,226.9 V129.3 H240.5 V133.3" stroke="#6e6e6e" stroke-width="1.3" fill="none"/>
<path d="M240.5,153.3 V226.9 H144.4" stroke="#7a7a7a" stroke-width="1.3" fill="none"/>
<rect x="191.6" y="153.70000000000002" width="35.0" height="31.3" stroke="#555" stroke-width="1.1" fill="none"/>
<text x="202.4" y="145.9" font-size="9.8" font-weight="normal" text-anchor="start" fill="#3c3c3c" stroke="#3c3c3c" stroke-width="0.4">1.78%</text>
<g clip-path="url(#clip20)">
<g filter="url(#spk20)"><rect x="33.0" y="224.4" width="115.4" height="118.9" fill="#fff"/>
<path d="M35.0,270.2 C36.5,258.5 40.4,270.7 43.9,270.2 C47.4,269.7 51.5,268.1 55.7,267.3 C60.0,266.5 64.8,265.5 69.4,265.3 C74.0,265.1 78.6,265.6 83.2,266.3 C87.8,267.0 93.0,268.2 96.9,269.3 C100.8,270.4 103.9,271.6 106.7,273.2 C109.5,274.8 112.0,276.7 113.6,279.1 C115.2,281.6 115.8,284.5 116.5,287.9 C117.2,291.3 117.3,295.4 117.5,299.7 C117.7,303.9 117.7,307.9 117.5,313.4 C117.3,318.8 116.3,327.9 116.5,332.4 C116.7,336.9 132.1,339.1 118.5,340.4 C104.9,341.7 48.9,352.1 35.0,340.4 C21.1,328.7 33.5,281.9 35.0,270.2 Z" fill="#5e5e5e" filter="url(#bo)"/>
<path d="M35.0,272.2 C36.5,260.8 40.4,272.7 43.9,272.2 C47.4,271.7 51.5,270.2 55.7,269.4 C60.0,268.6 64.8,267.6 69.4,267.4 C74.0,267.2 78.9,267.7 83.2,268.4 C87.5,269.1 91.7,270.2 95.0,271.4 C98.3,272.6 100.9,273.8 103.0,275.4 C105.1,277.0 106.5,278.7 107.5,280.9 C108.5,283.1 109.2,285.1 109.0,288.4 C108.8,291.6 107.0,296.1 106.0,300.4 C105.0,304.7 103.8,308.7 103.0,314.4 C102.2,320.1 101.2,330.1 101.0,334.4 C100.8,338.7 113.0,339.4 102.0,340.4 C91.0,341.4 46.2,351.8 35.0,340.4 C23.8,329.0 33.5,283.6 35.0,272.2 Z" fill="#242424" filter="url(#bd)"/>
<rect x="43.0" y="234.4" width="10" height="100" fill="url(#lf)"/>
</g>
<path d="M69.8,268.0 C70.7,267.2 72.2,266.1 74.0,265.6 C75.8,265.1 78.1,265.0 80.4,265.0 C82.7,265.1 85.9,265.3 87.9,265.8 C89.8,266.3 91.3,267.0 92.0,268.2 C92.8,269.4 92.3,271.1 92.2,272.8 C92.2,274.5 92.1,276.3 91.9,278.4 C91.6,280.5 90.7,283.0 90.8,285.5 C90.9,288.1 92.2,290.6 92.4,293.7 C92.7,296.7 92.6,300.7 92.3,304.0 C92.0,307.3 91.3,310.5 90.4,313.4 C89.5,316.3 88.1,319.1 86.7,321.6 C85.2,324.2 83.4,326.8 81.6,328.7 C79.8,330.7 77.9,332.5 75.8,333.4 C73.8,334.3 71.4,334.7 69.1,334.3 C66.8,334.0 64.7,333.1 62.3,331.5 C59.8,330.0 56.7,327.6 54.5,325.2 C52.4,322.7 50.6,319.5 49.6,316.9 C48.6,314.2 48.4,311.8 48.5,309.6 C48.7,307.3 49.7,305.1 50.8,303.3 C51.8,301.5 53.4,300.4 55.0,298.6 C56.6,296.7 58.6,294.8 60.3,292.2 C62.1,289.6 64.3,285.8 65.5,282.9 C66.7,280.1 66.9,277.3 67.4,275.2 C68.0,273.1 68.2,271.8 68.6,270.5 C69.0,269.3 68.9,268.8 69.8,268.0 Z" fill="#262626" filter="url(#b3)"/>
<path d="M70.6,273.3 C71.3,272.5 72.5,271.5 74.0,271.0 C75.5,270.5 77.4,270.4 79.3,270.3 C81.3,270.3 84.0,270.3 85.7,270.7 C87.3,271.1 88.6,271.7 89.2,272.7 C89.7,273.8 89.1,275.5 89.0,277.1 C88.8,278.7 88.6,280.4 88.1,282.3 C87.7,284.2 86.5,286.5 86.3,288.5 C86.2,290.6 86.9,292.3 87.1,294.5 C87.2,296.8 87.4,299.5 87.3,302.0 C87.2,304.5 87.1,307.1 86.6,309.5 C86.1,312.0 85.3,314.5 84.2,316.8 C83.2,319.1 81.8,321.6 80.4,323.5 C78.9,325.3 77.3,327.1 75.6,328.0 C73.8,328.9 71.7,329.3 69.8,329.0 C67.9,328.7 66.0,327.8 64.0,326.4 C62.0,325.0 59.3,322.9 57.6,320.7 C55.9,318.6 54.5,315.7 53.8,313.4 C53.1,311.2 53.0,309.1 53.4,307.1 C53.7,305.2 54.8,303.3 56.0,301.8 C57.1,300.3 58.8,299.4 60.4,298.1 C62.0,296.7 64.2,295.7 65.5,293.9 C66.8,292.1 67.8,289.8 68.4,287.5 C68.9,285.3 68.8,282.3 69.0,280.4 C69.3,278.4 69.4,277.0 69.7,275.8 C69.9,274.7 69.8,274.1 70.6,273.3 Z" fill="#868686" filter="url(#b2)"/>
<path d="M70.8,274.9 C71.5,274.1 72.6,273.1 74.0,272.6 C75.4,272.1 77.2,272.0 79.0,271.9 C80.8,271.8 83.5,271.8 85.0,272.2 C86.5,272.6 87.8,273.1 88.3,274.1 C88.8,275.1 88.2,276.8 88.0,278.4 C87.8,279.9 87.5,281.6 87.0,283.4 C86.5,285.2 85.2,287.5 85.0,289.4 C84.8,291.3 85.4,292.8 85.5,294.8 C85.6,296.8 85.8,299.1 85.8,301.4 C85.8,303.7 85.9,306.1 85.5,308.4 C85.1,310.7 84.4,313.1 83.5,315.4 C82.6,317.6 81.3,320.1 80.0,321.9 C78.7,323.7 77.2,325.5 75.5,326.4 C73.8,327.3 71.8,327.6 70.0,327.4 C68.2,327.1 66.4,326.2 64.5,324.9 C62.6,323.6 60.1,321.5 58.5,319.4 C56.9,317.3 55.6,314.6 55.0,312.4 C54.4,310.2 54.4,308.2 54.8,306.4 C55.2,304.6 56.3,302.8 57.5,301.4 C58.7,300.0 60.4,299.1 62.0,297.9 C63.6,296.7 65.8,295.9 67.0,294.4 C68.2,292.9 68.8,291.0 69.2,288.9 C69.6,286.8 69.4,283.8 69.5,281.9 C69.6,280.0 69.8,278.6 70.0,277.4 C70.2,276.2 70.1,275.7 70.8,274.9 Z" fill="#aaaaaa" filter="url(#b15)"/>
<path d="M60.0,306.4 C60.8,303.7 62.5,301.6 64.5,299.9 C66.5,298.2 69.5,296.9 72.0,296.4 C74.5,295.9 77.7,295.9 79.5,296.9 C81.3,297.9 82.5,300.0 83.0,302.4 C83.5,304.8 83.2,308.6 82.5,311.4 C81.8,314.1 80.8,317.0 79.0,318.9 C77.2,320.8 74.5,322.5 72.0,322.9 C69.5,323.3 66.1,322.6 64.0,321.4 C61.9,320.2 60.2,318.4 59.5,315.9 C58.8,313.4 59.2,309.1 60.0,306.4 Z" fill="#c8c8c8" filter="url(#b2)"/>
<ellipse cx="0" cy="0" rx="5.2" ry="7" fill="#cccccc" transform="translate(78.5,281.4) rotate(0)" filter="url(#b2)"/>
<ellipse cx="0" cy="0" rx="2.88" ry="4.83" fill="#a2a2a2" transform="translate(74.0,304.5) rotate(20)" filter="url(#b2)"/>
</g>
<path d="M43.0,333.3 V234.4 H138.4 V238.4" stroke="#6e6e6e" stroke-width="1.3" fill="none"/>
<path d="M138.4,258.4 V333.3 H43.0" stroke="#7a7a7a" stroke-width="1.3" fill="none"/>
<rect x="90.4" y="258.8" width="34.599999999999994" height="31.3" stroke="#555" stroke-width="1.1" fill="none"/>
<text x="101.4" y="252.20000000000002" font-size="9.8" font-weight="normal" text-anchor="start" fill="#3c3c3c" stroke="#3c3c3c" stroke-width="0.4">1.64%</text>
<g clip-path="url(#clip21)">
<g filter="url(#spk21)"><rect x="134.4" y="224.4" width="116.1" height="118.9" fill="#fff"/>
<path d="M136.4,270.2 C137.8,258.5 140.9,270.8 144.9,270.2 C148.9,269.6 155.7,267.3 160.6,266.3 C165.5,265.3 169.8,264.4 174.4,264.4 C179.0,264.4 183.9,265.5 188.1,266.3 C192.3,267.1 196.2,268.2 199.8,269.3 C203.4,270.4 207.0,271.6 209.7,273.2 C212.4,274.8 214.4,276.7 215.9,279.1 C217.4,281.6 218.1,284.5 218.4,287.9 C218.7,291.3 218.2,295.1 217.9,299.7 C217.6,304.3 216.9,309.9 216.4,315.4 C215.9,320.8 214.8,328.2 214.9,332.4 C215.0,336.6 230.0,339.1 216.9,340.4 C203.8,341.7 149.8,352.1 136.4,340.4 C123.0,328.7 135.0,281.9 136.4,270.2 Z" fill="#5e5e5e" filter="url(#bo)"/>
<path d="M136.4,272.2 C137.8,260.8 140.9,272.8 144.9,272.2 C148.9,271.6 155.7,269.2 160.6,268.3 C165.5,267.4 169.8,266.6 174.4,266.6 C179.0,266.6 184.1,267.6 188.1,268.4 C192.1,269.2 195.4,270.2 198.4,271.4 C201.4,272.6 203.9,273.8 205.9,275.4 C207.9,277.0 209.6,278.9 210.4,280.9 C211.2,282.9 211.7,284.8 210.9,287.4 C210.1,290.0 206.8,292.2 205.4,296.4 C204.0,300.6 203.1,306.1 202.4,312.4 C201.7,318.7 201.4,329.7 201.4,334.4 C201.4,339.1 213.2,339.4 202.4,340.4 C191.6,341.4 147.4,351.8 136.4,340.4 C125.4,329.0 135.0,283.6 136.4,272.2 Z" fill="#242424" filter="url(#bd)"/>
<rect x="144.4" y="234.4" width="10" height="100" fill="url(#lf)"/>
</g>
<path d="M165.4,268.2 C166.6,266.5 168.0,266.0 170.1,265.3 C172.1,264.7 175.2,264.5 177.7,264.4 C180.2,264.3 183.1,264.6 185.3,265.0 C187.5,265.3 189.7,265.6 191.0,266.5 C192.3,267.4 192.6,268.7 193.1,270.5 C193.6,272.2 193.7,274.8 193.9,277.1 C194.2,279.4 194.5,281.7 194.6,284.4 C194.8,287.1 194.9,290.1 194.7,293.4 C194.6,296.6 194.3,300.3 193.8,303.9 C193.4,307.4 192.7,311.2 192.0,314.6 C191.3,318.0 190.4,321.8 189.4,324.4 C188.5,327.0 187.7,328.4 186.1,329.9 C184.6,331.4 182.6,332.7 180.1,333.4 C177.7,334.0 174.1,334.0 171.5,333.6 C168.9,333.2 166.5,332.1 164.6,331.0 C162.7,329.9 161.3,329.0 160.0,326.8 C158.7,324.7 157.4,321.0 156.7,318.0 C156.0,314.9 156.0,311.4 156.0,308.5 C156.0,305.6 156.5,303.1 156.8,300.6 C157.1,298.1 157.2,296.3 157.9,293.4 C158.5,290.4 159.7,285.5 160.6,282.6 C161.4,279.7 162.0,278.4 162.9,276.0 C163.7,273.6 164.2,270.0 165.4,268.2 Z" fill="#262626" filter="url(#b3)"/>
<path d="M167.3,273.3 C168.2,271.6 169.4,271.2 171.1,270.6 C172.8,270.0 175.3,269.9 177.5,269.8 C179.6,269.7 182.0,269.9 183.8,270.2 C185.7,270.4 187.6,270.5 188.7,271.4 C189.8,272.2 190.0,273.4 190.3,275.0 C190.5,276.7 190.4,279.1 190.4,281.2 C190.3,283.3 190.4,285.3 190.2,287.5 C190.1,289.7 189.7,292.1 189.5,294.5 C189.2,296.9 189.0,299.3 188.8,302.0 C188.6,304.7 188.7,307.7 188.4,310.6 C188.1,313.5 187.7,317.2 187.1,319.5 C186.5,321.9 185.8,323.3 184.6,324.7 C183.3,326.1 181.6,327.4 179.6,328.0 C177.5,328.6 174.4,328.6 172.2,328.3 C170.0,327.9 168.0,326.9 166.4,325.9 C164.8,324.9 163.6,324.1 162.6,322.1 C161.6,320.1 160.7,316.8 160.4,314.1 C160.1,311.4 160.4,308.3 160.7,305.9 C161.0,303.5 161.7,301.6 162.1,299.7 C162.5,297.8 162.7,296.7 163.1,294.5 C163.5,292.2 164.1,288.6 164.5,286.3 C165.0,284.0 165.3,282.7 165.7,280.5 C166.2,278.4 166.4,275.0 167.3,273.3 Z" fill="#868686" filter="url(#b2)"/>
<path d="M167.9,274.8 C168.7,273.2 169.8,272.8 171.4,272.2 C173.0,271.6 175.4,271.5 177.4,271.4 C179.4,271.3 181.6,271.5 183.4,271.7 C185.2,271.9 187.0,272.0 188.0,272.8 C189.0,273.6 189.2,274.8 189.4,276.4 C189.6,278.0 189.4,280.4 189.3,282.4 C189.2,284.4 189.1,286.3 188.9,288.4 C188.7,290.5 188.2,292.6 187.9,294.8 C187.6,297.0 187.4,299.0 187.3,301.4 C187.2,303.8 187.5,306.6 187.3,309.4 C187.2,312.2 186.9,315.8 186.4,318.1 C185.9,320.4 185.3,321.8 184.1,323.2 C182.9,324.6 181.4,325.8 179.4,326.4 C177.4,327.0 174.5,327.0 172.4,326.7 C170.3,326.4 168.4,325.4 166.9,324.4 C165.4,323.4 164.3,322.6 163.4,320.7 C162.5,318.8 161.7,315.5 161.5,312.9 C161.3,310.3 161.7,307.4 162.1,305.1 C162.5,302.9 163.3,301.1 163.7,299.4 C164.1,297.7 164.4,296.8 164.7,294.8 C165.0,292.8 165.4,289.5 165.7,287.4 C166.0,285.2 166.2,284.0 166.6,281.9 C167.0,279.8 167.1,276.4 167.9,274.8 Z" fill="#aaaaaa" filter="url(#b15)"/>
<path d="M169.4,278.4 C170.7,276.3 174.0,276.1 176.4,275.9 C178.8,275.6 182.4,275.5 183.9,276.9 C185.4,278.3 185.3,281.5 185.4,284.4 C185.5,287.3 184.7,290.7 184.4,294.4 C184.2,298.1 184.2,302.7 183.9,306.4 C183.7,310.1 183.7,313.7 182.9,316.4 C182.2,319.1 181.2,321.3 179.4,322.4 C177.7,323.5 174.5,323.6 172.4,322.9 C170.3,322.2 168.0,320.6 166.9,318.4 C165.8,316.1 165.8,312.7 165.9,309.4 C166.0,306.1 167.0,301.9 167.4,298.4 C167.8,294.9 168.1,291.7 168.4,288.4 C168.7,285.1 168.1,280.5 169.4,278.4 Z" fill="#d2d2d2" filter="url(#b2)"/>
<ellipse cx="0" cy="0" rx="2.76" ry="4.83" fill="#a2a2a2" transform="translate(178.9,282.5) rotate(0)" filter="url(#b2)"/>
<ellipse cx="0" cy="0" rx="2.76" ry="5.175" fill="#a2a2a2" transform="translate(178.3,300.6) rotate(5)" filter="url(#b2)"/>
</g>
<path d="M144.4,333.3 V234.4 H240.5 V238.4" stroke="#6e6e6e" stroke-width="1.3" fill="none"/>
<path d="M240.5,258.4 V333.3 H144.4" stroke="#7a7a7a" stroke-width="1.3" fill="none"/>
<rect x="191.6" y="258.8" width="35.0" height="31.3" stroke="#555" stroke-width="1.1" fill="none"/>
<text x="202.4" y="252.20000000000002" font-size="9.8" font-weight="normal" text-anchor="start" fill="#3c3c3c" stroke="#3c3c3c" stroke-width="0.4">2.78%</text>
<path d="M295.2,28.1 V122.9 H431" stroke="#000" stroke-width="1.2" fill="none"/>
<path d="M292.59999999999997,122.9 H295.2" stroke="#000" stroke-width="1"/>
<text x="291.2" y="124.95" font-size="7.1" font-weight="bold" text-anchor="end" fill="#000" stroke="#000" stroke-width="0.2">0.00</text>
<path d="M292.59999999999997,111.2 H295.2" stroke="#000" stroke-width="1"/>
<text x="291.2" y="113.25" font-size="7.1" font-weight="bold" text-anchor="end" fill="#000" stroke="#000" stroke-width="0.2">0.05</text>
<path d="M292.59999999999997,99.5 H295.2" stroke="#000" stroke-width="1"/>
<text x="291.2" y="101.55" font-size="7.1" font-weight="bold" text-anchor="end" fill="#000" stroke="#000" stroke-width="0.2">0.10</text>
<path d="M292.59999999999997,87.8 H295.2" stroke="#000" stroke-width="1"/>
<text x="291.2" y="89.85000000000001" font-size="7.1" font-weight="bold" text-anchor="end" fill="#000" stroke="#000" stroke-width="0.2">0.15</text>
<path d="M292.59999999999997,76.1 H295.2" stroke="#000" stroke-width="1"/>
<text x="291.2" y="78.15" font-size="7.1" font-weight="bold" text-anchor="end" fill="#000" stroke="#000" stroke-width="0.2">0.20</text>
<path d="M292.59999999999997,64.4 H295.2" stroke="#000" stroke-width="1"/>
<text x="291.2" y="66.45" font-size="7.1" font-weight="bold" text-anchor="end" fill="#000" stroke="#000" stroke-width="0.2">0.25</text>
<path d="M292.59999999999997,52.7 H295.2" stroke="#000" stroke-width="1"/>
<text x="291.2" y="54.750000000000014" font-size="7.1" font-weight="bold" text-anchor="end" fill="#000" stroke="#000" stroke-width="0.2">0.30</text>
<path d="M292.59999999999997,41.0 H295.2" stroke="#000" stroke-width="1"/>
<text x="291.2" y="43.05000000000001" font-size="7.1" font-weight="bold" text-anchor="end" fill="#000" stroke="#000" stroke-width="0.2">0.35</text>
<path d="M362.7,122.9 v2.2" stroke="#000" stroke-width="0.9"/>
<text transform="translate(261.8,76.0) rotate(-90)" font-size="8.8" font-weight="bold" text-anchor="middle">LSK Cells</text>
<text transform="translate(271.0,74.0) rotate(-90)" font-size="8.8" font-weight="bold" text-anchor="middle" textLength="85" lengthAdjust="spacing">(% of Total BMMCs)</text>
<path d="M329.4,79.0 V77.6" stroke="#000" stroke-width="1.2"/>
<path d="M318.0,77.6 H340.8" stroke="#000" stroke-width="1.8"/>
<rect x="306.2" y="79.0" width="46.400000000000034" height="43.9" fill="#fff" stroke="#000" stroke-width="1.3"/>
<path d="M397.6,51.3 V48.0" stroke="#000" stroke-width="1.2"/>
<path d="M386.1,48.0 H409.1" stroke="#000" stroke-width="1.8"/>
<rect x="374.2" y="51.3" width="46.80000000000001" height="71.6" fill="#000" stroke="#000" stroke-width="1.3"/>
<rect x="307.6" y="31.3" width="9.8" height="5.9" fill="#fff" stroke="#000" stroke-width="1.4"/>
<rect x="307.6" y="43.8" width="9.8" height="5.9" fill="#000" stroke="#000" stroke-width="1.4"/>
<text x="322.8" y="38.3" font-size="8.6" font-weight="normal" text-anchor="start" fill="#111" >Sham</text>
<text x="322.8" y="50.6" font-size="8.6" font-weight="normal" text-anchor="start" fill="#111" >OVX</text>
<text x="397.0" y="49.3" font-size="19" font-weight="bold" text-anchor="middle" fill="#000" >**</text>
<text x="450.5" y="84.0" font-size="14.2" font-weight="normal" text-anchor="middle" fill="#000" class="hv">WT</text>
<text x="450.5" y="101.3" font-size="14.2" font-weight="normal" text-anchor="middle" fill="#000" class="hv">Mice</text>
<path d="M295.2,144.0 V232.8 H431" stroke="#000" stroke-width="1.2" fill="none"/>
<path d="M292.59999999999997,232.8 H295.2" stroke="#000" stroke-width="1"/>
<text x="291.2" y="234.85000000000002" font-size="7.1" font-weight="bold" text-anchor="end" fill="#000" stroke="#000" stroke-width="0.2">0.00</text>
<path d="M292.59999999999997,221.7 H295.2" stroke="#000" stroke-width="1"/>
<text x="291.2" y="223.75000000000003" font-size="7.1" font-weight="bold" text-anchor="end" fill="#000" stroke="#000" stroke-width="0.2">0.05</text>
<path d="M292.59999999999997,210.6 H295.2" stroke="#000" stroke-width="1"/>
<text x="291.2" y="212.65000000000003" font-size="7.1" font-weight="bold" text-anchor="end" fill="#000" stroke="#000" stroke-width="0.2">0.10</text>
<path d="M292.59999999999997,199.5 H295.2" stroke="#000" stroke-width="1"/>
<text x="291.2" y="201.55" font-size="7.1" font-weight="bold" text-anchor="end" fill="#000" stroke="#000" stroke-width="0.2">0.15</text>
<path d="M292.59999999999997,188.4 H295.2" stroke="#000" stroke-width="1"/>
<text x="291.2" y="190.45000000000002" font-size="7.1" font-weight="bold" text-anchor="end" fill="#000" stroke="#000" stroke-width="0.2">0.20</text>
<path d="M292.59999999999997,177.3 H295.2" stroke="#000" stroke-width="1"/>
<text x="291.2" y="179.35000000000002" font-size="7.1" font-weight="bold" text-anchor="end" fill="#000" stroke="#000" stroke-width="0.2">0.25</text>
<path d="M292.59999999999997,166.2 H295.2" stroke="#000" stroke-width="1"/>
<text x="291.2" y="168.25000000000003" font-size="7.1" font-weight="bold" text-anchor="end" fill="#000" stroke="#000" stroke-width="0.2">0.30</text>
<path d="M292.59999999999997,155.1 H295.2" stroke="#000" stroke-width="1"/>
<text x="291.2" y="157.15000000000003" font-size="7.1" font-weight="bold" text-anchor="end" fill="#000" stroke="#000" stroke-width="0.2">0.35</text>
<path d="M292.59999999999997,144.0 H295.2" stroke="#000" stroke-width="1"/>
<text x="291.2" y="146.05" font-size="7.1" font-weight="bold" text-anchor="end" fill="#000" stroke="#000" stroke-width="0.2">0.40</text>
<path d="M328.8,232.8 v2.2" stroke="#000" stroke-width="0.9"/>
<path d="M397.1,232.8 v2.2" stroke="#000" stroke-width="0.9"/>
<text transform="translate(261.8,188.4) rotate(-90)" font-size="8.8" font-weight="bold" text-anchor="middle">LSK Cells</text>
<text transform="translate(271.0,189.2) rotate(-90)" font-size="8.8" font-weight="bold" text-anchor="middle" textLength="87" lengthAdjust="spacing">(% of Total BMMCs)</text>
<path d="M329.1,191.7 V190.4" stroke="#000" stroke-width="1.2"/>
<path d="M317.8,190.4 H340.5" stroke="#000" stroke-width="1.8"/>
<rect x="306.0" y="191.7" width="46.30000000000001" height="41.1" fill="#fff" stroke="#000" stroke-width="1.3"/>
<path d="M397.2,190.6 V189.7" stroke="#000" stroke-width="1.2"/>
<path d="M385.8,189.7 H408.8" stroke="#000" stroke-width="1.8"/>
<rect x="373.6" y="190.6" width="47.299999999999955" height="42.2" fill="#000" stroke="#000" stroke-width="1.3"/>
<rect x="311.6" y="157.5" width="10.3" height="5.8" fill="#fff" stroke="#000" stroke-width="1.4"/>
<rect x="372.9" y="156.6" width="10.0" height="6.0" fill="#000" stroke="#000" stroke-width="1.4"/>
<text x="327.4" y="163.9" font-size="8.5" font-weight="normal" text-anchor="start" fill="#111" >Sham</text>
<text x="388.7" y="163.5" font-size="8.5" font-weight="normal" text-anchor="start" fill="#111" >OVX</text>
<text x="461.7" y="201.2" font-size="14.4" font-weight="normal" text-anchor="middle" fill="#000" class="hv">TCRβ-/-</text>
<text x="462.3" y="218.0" font-size="14.4" font-weight="normal" text-anchor="middle" fill="#000" class="hv">Mice</text>
<path d="M295.4,249.1 V338.7 H431" stroke="#000" stroke-width="1.2" fill="none"/>
<path d="M292.79999999999995,338.7 H295.4" stroke="#000" stroke-width="1"/>
<text x="291.3" y="340.75" font-size="7.1" font-weight="bold" text-anchor="end" fill="#000" stroke="#000" stroke-width="0.2">0.00</text>
<path d="M292.79999999999995,327.5 H295.4" stroke="#000" stroke-width="1"/>
<text x="291.3" y="329.55" font-size="7.1" font-weight="bold" text-anchor="end" fill="#000" stroke="#000" stroke-width="0.2">0.05</text>
<path d="M292.79999999999995,316.3 H295.4" stroke="#000" stroke-width="1"/>
<text x="291.3" y="318.35" font-size="7.1" font-weight="bold" text-anchor="end" fill="#000" stroke="#000" stroke-width="0.2">0.10</text>
<path d="M292.79999999999995,305.1 H295.4" stroke="#000" stroke-width="1"/>
<text x="291.3" y="307.15000000000003" font-size="7.1" font-weight="bold" text-anchor="end" fill="#000" stroke="#000" stroke-width="0.2">0.15</text>
<path d="M292.79999999999995,293.9 H295.4" stroke="#000" stroke-width="1"/>
<text x="291.3" y="295.95" font-size="7.1" font-weight="bold" text-anchor="end" fill="#000" stroke="#000" stroke-width="0.2">0.20</text>
<path d="M292.79999999999995,282.7 H295.4" stroke="#000" stroke-width="1"/>
<text x="291.3" y="284.75" font-size="7.1" font-weight="bold" text-anchor="end" fill="#000" stroke="#000" stroke-width="0.2">0.25</text>
<path d="M292.79999999999995,271.5 H295.4" stroke="#000" stroke-width="1"/>
<text x="291.3" y="273.55" font-size="7.1" font-weight="bold" text-anchor="end" fill="#000" stroke="#000" stroke-width="0.2">0.30</text>
<path d="M292.79999999999995,260.3 H295.4" stroke="#000" stroke-width="1"/>
<text x="291.3" y="262.35" font-size="7.1" font-weight="bold" text-anchor="end" fill="#000" stroke="#000" stroke-width="0.2">0.35</text>
<path d="M292.79999999999995,249.1 H295.4" stroke="#000" stroke-width="1"/>
<text x="291.3" y="251.15" font-size="7.1" font-weight="bold" text-anchor="end" fill="#000" stroke="#000" stroke-width="0.2">0.40</text>
<path d="M328.8,338.7 v2.2" stroke="#000" stroke-width="0.9"/>
<path d="M397.1,338.7 v2.2" stroke="#000" stroke-width="0.9"/>
<text transform="translate(261.8,293.8) rotate(-90)" font-size="8.8" font-weight="bold" text-anchor="middle">LSK Cells</text>
<text transform="translate(271.0,293.4) rotate(-90)" font-size="8.8" font-weight="bold" text-anchor="middle" textLength="80" lengthAdjust="spacing">(% of Total BMMCs)</text>
<path d="M329.2,298.4 V297.3" stroke="#000" stroke-width="1.2"/>
<path d="M317.9,297.3 H340.6" stroke="#000" stroke-width="1.8"/>
<rect x="306.2" y="298.4" width="46.10000000000002" height="40.3" fill="#fff" stroke="#000" stroke-width="1.3"/>
<path d="M397.6,280.0 V278.2" stroke="#000" stroke-width="1.2"/>
<path d="M386.1,278.2 H409.1" stroke="#000" stroke-width="1.8"/>
<rect x="373.8" y="280.0" width="47.5" height="58.7" fill="#000" stroke="#000" stroke-width="1.3"/>
<rect x="305.4" y="250.4" width="10.0" height="5.8" fill="#fff" stroke="#000" stroke-width="1.4"/>
<rect x="305.4" y="262.9" width="10.0" height="5.8" fill="#000" stroke="#000" stroke-width="1.4"/>
<text x="320.8" y="257.3" font-size="8.6" font-weight="normal" text-anchor="start" fill="#111" >Sham</text>
<text x="320.8" y="269.2" font-size="8.6" font-weight="normal" text-anchor="start" fill="#111" >OVX</text>
<text x="397.5" y="278.0" font-size="17.5" font-weight="bold" text-anchor="middle" fill="#000" >*</text>
<text x="474.1" y="301.5" font-size="14.8" font-weight="normal" text-anchor="middle" fill="#000" class="hv">TCRβ-/- Mice</text>
<text x="472.4" y="318.5" font-size="14.4" font-weight="normal" text-anchor="middle" fill="#000" class="hv">+ T cells</text>
<rect x="114.6" y="386.0" width="8.8" height="9.6" fill="#fff" stroke="#000" stroke-width="1.2"/>
<text x="128.7" y="394.7" font-size="11.6" font-weight="normal" text-anchor="start" fill="#111" stroke="#111" stroke-width="0.3">WT Sham</text>
<rect x="114.6" y="401.0" width="8.8" height="9.6" fill="#c8c8c8" stroke="#000" stroke-width="1.2"/>
<text x="128.7" y="409.7" font-size="11.6" font-weight="normal" text-anchor="start" fill="#111" stroke="#111" stroke-width="0.3">TCR<tspan font-family="Liberation Serif" font-weight="normal">β</tspan>-/- Sham</text>
<rect x="114.6" y="416.6" width="8.8" height="9.6" fill="url(#hb)" stroke="#000" stroke-width="1.2"/>
<text x="128.7" y="425.3" font-size="11.6" font-weight="normal" text-anchor="start" fill="#111" stroke="#111" stroke-width="0.3">TCR<tspan font-family="Liberation Serif" font-weight="normal">β</tspan>-/- Sham + T cells</text>
<rect x="289.6" y="386.0" width="8.8" height="9.6" fill="#000" stroke="#000" stroke-width="1.2"/>
<text x="303.70000000000005" y="394.7" font-size="11.6" font-weight="normal" text-anchor="start" fill="#111" stroke="#111" stroke-width="0.3">WT OVX</text>
<rect x="289.6" y="401.0" width="8.8" height="9.6" fill="#555" stroke="#000" stroke-width="1.2"/>
<text x="303.70000000000005" y="409.7" font-size="11.6" font-weight="normal" text-anchor="start" fill="#111" stroke="#111" stroke-width="0.3">TCR<tspan font-family="Liberation Serif" font-weight="normal">β</tspan>-/- OVX</text>
<rect x="289.6" y="416.6" width="8.8" height="9.6" fill="url(#hf)" stroke="#000" stroke-width="1.2"/>
<text x="303.70000000000005" y="425.3" font-size="11.6" font-weight="normal" text-anchor="start" fill="#111" stroke="#111" stroke-width="0.3">TCR<tspan font-family="Liberation Serif" font-weight="normal">β</tspan>-/- OVX + T cells</text>
<path d="M74.2,430.4 V577.2 H435" stroke="#555" stroke-width="1.3" fill="none"/>
<path d="M71.8,577.2 H74.2" stroke="#555" stroke-width="1"/>
<text x="70.6" y="581.1" font-size="11" font-weight="bold" text-anchor="end" fill="#000" >0</text>
<path d="M71.8,540.9 H74.2" stroke="#555" stroke-width="1"/>
<text x="70.6" y="544.75" font-size="11" font-weight="bold" text-anchor="end" fill="#000" >20</text>
<path d="M71.8,504.5 H74.2" stroke="#555" stroke-width="1"/>
<text x="70.6" y="508.4" font-size="11" font-weight="bold" text-anchor="end" fill="#000" >40</text>
<path d="M71.8,468.2 H74.2" stroke="#555" stroke-width="1"/>
<text x="70.6" y="472.05" font-size="11" font-weight="bold" text-anchor="end" fill="#000" >60</text>
<path d="M71.8,431.8 H74.2" stroke="#555" stroke-width="1"/>
<text x="70.6" y="435.7" font-size="11" font-weight="bold" text-anchor="end" fill="#000" >80</text>
<text transform="translate(53.3,500.0) rotate(-90)" font-size="12.2" font-weight="bold" text-anchor="middle">Cells per mouse (x10<tspan dy="-5" dx="0.8" font-size="8.8">6</tspan><tspan dy="5">)</tspan></text>
<path d="M88.9,507.6 V503.0 M86.6,503.0 H91.2" stroke="#111" stroke-width="1.3"/>
<rect x="84.8" y="507.6" width="8.1" height="69.6" fill="#fff" stroke="#000" stroke-width="1.1"/>
<path d="M101.0,445.8 V440.3 M98.7,440.3 H103.3" stroke="#111" stroke-width="1.3"/>
<rect x="97.0" y="445.8" width="8.1" height="131.4" fill="#000" stroke="#000" stroke-width="1.1"/>
<text x="101.0" y="442.5" font-size="12" font-weight="bold" text-anchor="middle" fill="#000" >*</text>
<path d="M113.2,529.2 V527.4 M110.9,527.4 H115.5" stroke="#111" stroke-width="1.3"/>
<rect x="109.1" y="529.2" width="8.1" height="48.0" fill="#c8c8c8" stroke="#000" stroke-width="1.1"/>
<path d="M125.4,516.0 V510.5 M123.1,510.5 H127.7" stroke="#111" stroke-width="1.3"/>
<rect x="121.3" y="516.0" width="8.1" height="61.2" fill="#505050" stroke="#000" stroke-width="1.1"/>
<path d="M137.5,529.9 V529.2 M135.2,529.2 H139.8" stroke="#111" stroke-width="1.3"/>
<rect x="133.5" y="529.9" width="8.1" height="47.3" fill="url(#hb)" stroke="#000" stroke-width="1.1"/>
<path d="M149.7,488.9 V486.1 M147.4,486.1 H152.0" stroke="#111" stroke-width="1.3"/>
<rect x="145.7" y="488.9" width="8.1" height="88.3" fill="url(#hf)" stroke="#000" stroke-width="1.1"/>
<text x="149.7" y="488.3" font-size="12" font-weight="bold" text-anchor="middle" fill="#000" >*</text>
<path d="M119.0,577.2 v2.2" stroke="#555" stroke-width="0.9"/>
<text x="119.0" y="590.1" font-size="11.2" font-weight="bold" text-anchor="middle" fill="#000" >B cells</text>
<path d="M178.4,517.6 V503.8 M176.1,503.8 H180.7" stroke="#111" stroke-width="1.3"/>
<rect x="174.3" y="517.6" width="8.1" height="59.6" fill="#fff" stroke="#000" stroke-width="1.1"/>
<path d="M190.5,469.1 V461.8 M188.2,461.8 H192.8" stroke="#111" stroke-width="1.3"/>
<rect x="186.5" y="469.1" width="8.1" height="108.1" fill="#000" stroke="#000" stroke-width="1.1"/>
<text x="190.5" y="464.0" font-size="12" font-weight="bold" text-anchor="middle" fill="#000" >*</text>
<path d="M202.7,530.3 V528.1 M200.4,528.1 H205.0" stroke="#111" stroke-width="1.3"/>
<rect x="198.6" y="530.3" width="8.1" height="46.9" fill="#c8c8c8" stroke="#000" stroke-width="1.1"/>
<path d="M214.9,521.2 V516.3 M212.6,516.3 H217.2" stroke="#111" stroke-width="1.3"/>
<rect x="210.8" y="521.2" width="8.1" height="56.0" fill="#505050" stroke="#000" stroke-width="1.1"/>
<path d="M227.0,523.6 V522.9 M224.7,522.9 H229.3" stroke="#111" stroke-width="1.3"/>
<rect x="223.0" y="523.6" width="8.1" height="53.6" fill="url(#hb)" stroke="#000" stroke-width="1.1"/>
<path d="M239.2,482.3 V479.6 M236.9,479.6 H241.5" stroke="#111" stroke-width="1.3"/>
<rect x="235.2" y="482.3" width="8.1" height="94.9" fill="url(#hf)" stroke="#000" stroke-width="1.1"/>
<text x="239.2" y="481.8" font-size="12" font-weight="bold" text-anchor="middle" fill="#000" >*</text>
<path d="M208.6,577.2 v2.2" stroke="#555" stroke-width="0.9"/>
<text x="208.6" y="590.1" font-size="11.2" font-weight="bold" text-anchor="middle" fill="#000" >Monocytes</text>
<path d="M267.8,536.9 V530.7 M265.4,530.7 H270.1" stroke="#111" stroke-width="1.3"/>
<rect x="263.7" y="536.9" width="8.1" height="40.3" fill="#fff" stroke="#000" stroke-width="1.1"/>
<path d="M279.9,502.0 V498.1 M277.6,498.1 H282.2" stroke="#111" stroke-width="1.3"/>
<rect x="275.9" y="502.0" width="8.1" height="75.2" fill="#000" stroke="#000" stroke-width="1.1"/>
<text x="279.9" y="500.3" font-size="12" font-weight="bold" text-anchor="middle" fill="#000" >*</text>
<path d="M292.1,537.2 V535.4 M289.8,535.4 H294.4" stroke="#111" stroke-width="1.3"/>
<rect x="288.0" y="537.2" width="8.1" height="40.0" fill="#c8c8c8" stroke="#000" stroke-width="1.1"/>
<path d="M304.3,530.3 V525.8 M302.0,525.8 H306.6" stroke="#111" stroke-width="1.3"/>
<rect x="300.2" y="530.3" width="8.1" height="46.9" fill="#505050" stroke="#000" stroke-width="1.1"/>
<path d="M316.4,537.6 V536.9 M314.1,536.9 H318.7" stroke="#111" stroke-width="1.3"/>
<rect x="312.4" y="537.6" width="8.1" height="39.6" fill="url(#hb)" stroke="#000" stroke-width="1.1"/>
<path d="M328.6,504.1 V503.0 M326.3,503.0 H330.9" stroke="#111" stroke-width="1.3"/>
<rect x="324.6" y="504.1" width="8.1" height="73.1" fill="url(#hf)" stroke="#000" stroke-width="1.1"/>
<text x="328.6" y="505.2" font-size="12" font-weight="bold" text-anchor="middle" fill="#000" >*</text>
<path d="M298.0,577.2 v2.2" stroke="#555" stroke-width="0.9"/>
<text x="298.0" y="590.1" font-size="11.2" font-weight="bold" text-anchor="middle" fill="#000" >Erythroid</text>
<path d="M357.1,520.9 V511.8 M354.8,511.8 H359.4" stroke="#111" stroke-width="1.3"/>
<rect x="353.0" y="520.9" width="8.1" height="56.3" fill="#fff" stroke="#000" stroke-width="1.1"/>
<path d="M369.2,476.5 V472.3 M366.9,472.3 H371.5" stroke="#111" stroke-width="1.3"/>
<rect x="365.2" y="476.5" width="8.1" height="100.7" fill="#000" stroke="#000" stroke-width="1.1"/>
<text x="369.2" y="474.5" font-size="12" font-weight="bold" text-anchor="middle" fill="#000" >*</text>
<path d="M381.4,534.3 V532.5 M379.1,532.5 H383.7" stroke="#111" stroke-width="1.3"/>
<rect x="377.3" y="534.3" width="8.1" height="42.9" fill="#c8c8c8" stroke="#000" stroke-width="1.1"/>
<path d="M393.6,527.2 V522.5 M391.3,522.5 H395.9" stroke="#111" stroke-width="1.3"/>
<rect x="389.5" y="527.2" width="8.1" height="50.0" fill="#505050" stroke="#000" stroke-width="1.1"/>
<path d="M405.7,528.5 V525.9 M403.4,525.9 H408.0" stroke="#111" stroke-width="1.3"/>
<rect x="401.7" y="528.5" width="8.1" height="48.7" fill="url(#hb)" stroke="#000" stroke-width="1.1"/>
<path d="M417.9,491.4 V488.7 M415.6,488.7 H420.2" stroke="#111" stroke-width="1.3"/>
<rect x="413.9" y="491.4" width="8.1" height="85.8" fill="url(#hf)" stroke="#000" stroke-width="1.1"/>
<text x="417.9" y="490.9" font-size="12" font-weight="bold" text-anchor="middle" fill="#000" >*</text>
<path d="M387.8,577.2 v2.2" stroke="#555" stroke-width="0.9"/>
<text x="387.8" y="590.1" font-size="11.2" font-weight="bold" text-anchor="middle" fill="#000" >Granulocyte</text></svg>
</body></html>
